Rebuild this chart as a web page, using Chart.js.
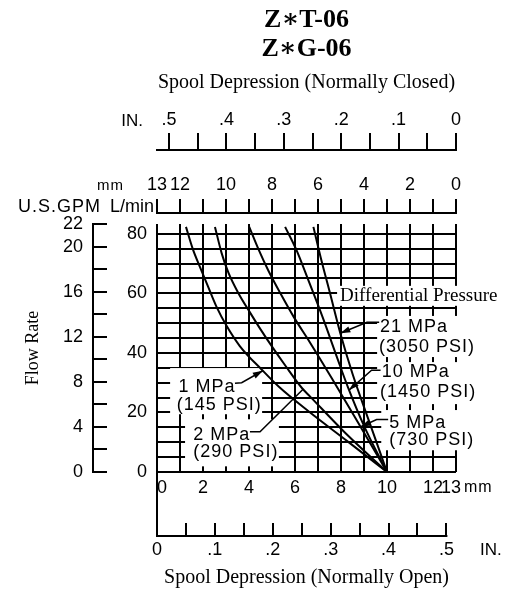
<!DOCTYPE html>
<html>
<head>
<meta charset="utf-8">
<style>
html,body{margin:0;padding:0;background:#fff;}
#wrap{width:513px;height:594px;}
</style>
<script src="https://cdn.jsdelivr.net/npm/chart.js@4.4.1/dist/chart.umd.min.js"></script>
</head>
<body>
<div id="wrap"><canvas id="c" width="513" height="594"></canvas></div>
<script>
// ---------- tick data ----------
const mmTicks = [0,1,2,3,4,5,6,7,8,9,10,11,12,13];
const mmLabels = [0,2,4,6,8,10,12,13];
const inchTicks = [0,0.05,0.1,0.15,0.2,0.25,0.3,0.35,0.4,0.45,0.5];
const inchLabelValues = [0,0.1,0.2,0.3,0.4,0.5];
const inchLabelTexts = ['0','.1','.2','.3','.4','.5'];
const lpmTicks = [0,5,10,15,20,25,30,35,40,45,50,55,60,65,70,75,80];
const lpmLabels = [0,20,40,60,80];
const gpmTicks = [0,2,4,6,8,10,12,14,16,18,20,22];
const gpmLabels = [0,4,8,12,16,20,22];
const gpmMax = 22;
const lpmPerGpm = 3.785;
const mmMax = 13;
const inchTopMax = 0.521;
const inchBotMax = 0.5166;

// ---------- series (x = spool depression mm, y = flow L/min) ----------
const seriesNames = ['1 MPa','2 MPa','5 MPa','10 MPa','21 MPa'];
const psiNames = ['(145 PSI)','(290 PSI)','(730 PSI)','(1450 PSI)','(3050 PSI)'];
const mpa1X = [1.26, 1.55, 1.87, 2.23, 2.6, 3.03, 3.6, 4.6, 5.3, 6.6, 8.3, 10];
const mpa1Y = [82.3, 75, 68.8, 62.1, 55.3, 49, 42.3, 34, 28.6, 20.3, 10.2, 0];
const mpa2X = [2.52, 2.81, 3.1, 3.54, 4.04, 4.51, 5.01, 5.6, 6.3, 6.65, 8.2, 10];
const mpa2Y = [82.3, 73.5, 67, 60, 53.6, 47.8, 42, 35.5, 28.2, 25.4, 13, 0];
const mpa5X = [4.01, 4.4, 4.85, 5.4, 5.95, 6.65, 7.6, 8.9, 10];
const mpa5Y = [82.3, 75, 67.5, 59.5, 52, 43.5, 31.5, 14.5, 0];
const mpa10X = [5.57, 6.07, 6.58, 7.2, 7.85, 8.3, 9, 10];
const mpa10Y = [82.3, 74.4, 64.4, 52, 38, 28.5, 15.5, 0];
const mpa21X = [6.8, 7.15, 7.49, 7.97, 8.5, 9.2, 10];
const mpa21Y = [82.3, 71, 61, 46.6, 33, 17.5, 0];

const curves = [[mpa1X, mpa1Y],[mpa2X, mpa2Y],[mpa5X, mpa5Y],[mpa10X, mpa10Y],[mpa21X, mpa21Y]];

const SANS = '"Liberation Sans", Arial, Helvetica, sans-serif';
const SERIF = '"Liberation Serif", "Times New Roman", Times, "DejaVu Serif", serif';

Chart.defaults.color = '#000';
Chart.defaults.font.family = SANS;

function fixH(h){ return s => { s.height = h; s.paddingLeft = s.paddingRight = s.paddingTop = s.paddingBottom = 0; }; }
function fixW(w){ return s => { s.width = w; s.paddingLeft = s.paddingRight = s.paddingTop = s.paddingBottom = 0; }; }
function setTicks(arr){ return s => { s.ticks = arr.map(v => ({value: v})); }; }
function labelIf(list){ return v => list.some(l => Math.abs(l - v) < 1e-6) ? String(v) : ''; }
function mmBottomLabel(v){
  if (!mmLabels.some(l => Math.abs(l - v) < 1e-6)) return '';
  if (v === 0) return '  ' + v;      // sits just right of the axis line, as in the original
  if (v === mmMax) return v + '  ';
  return String(v);
}
function inchLabel(v){ const i = inchLabelValues.findIndex(l => Math.abs(l - v) < 1e-6); return i < 0 ? '' : inchLabelTexts[i]; }

const tickFont = {family: SANS, size: 18};
const blackGrid = {color:'#000', lineWidth:2};

// ---------- annotation plugin ----------
const notes = [
  {box:[7.83,14.9,62.5,55.8], lines:[['Differential Pressure',7.96,59.2]], serif:true},
  {box:[9.57,13.9,52.4,38.6], lines:[[seriesNames[4],9.70,48.8],[psiNames[4],9.65,42.1]], leader:[[9.66,50.3],[9.13,50.3],[7.97,46.6]], arrow:true},
  {box:[9.57,13.9,36.9,22.8], lines:[[seriesNames[3],9.77,33.5],[psiNames[3],9.70,26.9]], leader:[[9.72,34.2],[9.33,34.2],[8.35,27.5]], arrow:true},
  {box:[9.75,13.9,20.8,7.3], lines:[[seriesNames[2],10.1,16.3],[psiNames[2],10.1,10.7]], leader:[[10.05,17.6],[9.55,17.6],[8.86,15.2]], arrow:true},
  {box:[0.57,4.57,34.9,19.4], lines:[[seriesNames[0],0.93,28.6],[psiNames[0],0.86,22.5]], leader:[[3.39,29.8],[3.68,30.0],[4.6,34]], arrow:true},
  {box:[1.22,5.3,17.7,1.9], lines:[[seriesNames[1],1.58,12.4],[psiNames[1],1.58,6.7]], leader:[[4.04,13.5],[4.48,13.5],[6.35,27.8]], arrow:false}
];

const notesPlugin = {
  id: 'notes',
  beforeDatasetsDraw(chart){
    const {ctx} = chart; const X = chart.scales.x, Y = chart.scales.y;
    const px = v => X.getPixelForValue(v), py = v => Y.getPixelForValue(v);
    ctx.save();
    ctx.fillStyle = '#fff';
    notes.forEach(n => {
      const x1 = px(n.box[0]), x2 = px(n.box[1]), y1 = py(n.box[2]), y2 = py(n.box[3]);
      ctx.fillRect(x1, y1, x2 - x1, y2 - y1);
    });
    ctx.fillStyle = '#000';
    ctx.textAlign = 'left';
    ctx.textBaseline = 'middle';
    notes.forEach(n => {
      if (n.serif) { ctx.font = '19px ' + SERIF; ctx.letterSpacing = '0px'; }
      else { ctx.font = '18px ' + SANS; ctx.letterSpacing = '1px'; }
      n.lines.forEach(l => ctx.fillText(l[0], px(l[1]), py(l[2])));
    });
    ctx.letterSpacing = '0px';
    ctx.restore();
  },
  afterDatasetsDraw(chart){
    const {ctx} = chart; const X = chart.scales.x, Y = chart.scales.y;
    const px = v => X.getPixelForValue(v), py = v => Y.getPixelForValue(v);
    ctx.save();
    ctx.strokeStyle = '#000'; ctx.fillStyle = '#000'; ctx.lineWidth = 1.5;
    notes.forEach(n => {
      if (!n.leader) return;
      const pts = n.leader.map(p => [px(p[0]), py(p[1])]);
      ctx.beginPath(); ctx.moveTo(pts[0][0], pts[0][1]);
      for (let i = 1; i < pts.length; i++) ctx.lineTo(pts[i][0], pts[i][1]);
      ctx.stroke();
      if (n.arrow) {
        const [x2,y2] = pts[pts.length-1], [x1,y1] = pts[pts.length-2];
        const a = Math.atan2(y2-y1, x2-x1), L = 10, W = 3.2;
        ctx.beginPath(); ctx.moveTo(x2, y2);
        ctx.lineTo(x2 - L*Math.cos(a) + W*Math.sin(a), y2 - L*Math.sin(a) - W*Math.cos(a));
        ctx.lineTo(x2 - L*Math.cos(a) - W*Math.sin(a), y2 - L*Math.sin(a) + W*Math.cos(a));
        ctx.closePath(); ctx.fill();
      }
    });
    ctx.restore();
  },
  afterDraw(chart){
    const {ctx} = chart;
    const X = chart.scales.x, IB = chart.scales.inBot, IT = chart.scales.inTop, MT = chart.scales.mmTop;
    ctx.save();
    ctx.strokeStyle = '#000'; ctx.fillStyle = '#000'; ctx.lineWidth = 2;
    // bottom inch baseline and connector
    ctx.beginPath();
    ctx.moveTo(X.left, X.top); ctx.lineTo(X.left, IB.top);
    ctx.moveTo(IB.getPixelForValue(0) - 1, IB.top); ctx.lineTo(IB.getPixelForValue(0.5) + 1, IB.top);
    ctx.stroke();
    ctx.textBaseline = 'middle';
    ctx.font = '17px ' + SANS;
    ctx.textAlign = 'right';
    ctx.fillText('IN.', IT.left - 14, IT.bottom - 29);
    ctx.font = '15px ' + SANS; ctx.letterSpacing = '1px';
    ctx.fillText('mm', MT.left - 33, MT.bottom - 27);
    ctx.font = '18px ' + SANS; ctx.letterSpacing = '1px';
    ctx.fillText('U.S.GPM', 101, MT.bottom - 6);
    ctx.letterSpacing = '0px';
    ctx.fillText('L/min', MT.left - 3, MT.bottom - 6);
    ctx.textAlign = 'left';
    ctx.font = '16px ' + SANS; ctx.letterSpacing = '1px';
    ctx.fillText('mm', X.right + 8, X.top + 16);
    ctx.letterSpacing = '0px';
    ctx.font = '17px ' + SANS;
    ctx.fillText('IN.', IB.right + 24, IB.top + 14);
    ctx.restore();
  }
};

const datasets = curves.map((c, i) => ({
  label: seriesNames[i],
  data: c[0].map((x, j) => ({x: x, y: c[1][j]})),
  borderColor: '#000',
  borderWidth: 2,
  pointRadius: 0,
  fill: false,
  cubicInterpolationMode: 'monotone',
  xAxisID: 'x',
  yAxisID: 'y'
}));

new Chart(document.getElementById('c'), {
  type: 'line',
  data: { datasets: datasets },
  plugins: [notesPlugin],
  options: {
    responsive: false,
    devicePixelRatio: 1,
    animation: false,
    events: [],
    layout: { padding: {left:0, right:57, top:0, bottom:0}, autoPadding: false },
    plugins: { legend: {display:false}, title: {display:false}, tooltip: {enabled:false} },
    scales: {
      x: {
        type:'linear', position:'bottom', min:0, max:mmMax, weight:0,
        afterBuildTicks: setTicks(mmTicks), afterFit: fixH(64),
        grid: Object.assign({drawTicks:false}, blackGrid), border: {display:false},
        ticks: {autoSkip:false, maxRotation:0, minRotation:0, padding:5, font:tickFont, callback: mmBottomLabel}
      },
      inBot: {
        type:'linear', position:'bottom', min:0, max:inchBotMax, weight:1,
        afterBuildTicks: setTicks(inchTicks), afterFit: fixH(58),
        grid: {display:true, drawOnChartArea:false, drawTicks:true, tickLength:-13, color:'#000', lineWidth:2},
        border: {display:false},
        ticks: {autoSkip:false, maxRotation:0, minRotation:0, padding:16, font:tickFont, callback: inchLabel},
        title: {display:true, text:'Spool Depression (Normally Open)', color:'#000', font:{family:SERIF, size:20}, padding:{top:0, bottom:4}}
      },
      spacerTop: {
        type:'linear', position:'top', min:0, max:1, weight:0, afterFit: fixH(11),
        grid:{display:false}, border:{display:false}, ticks:{display:false}
      },
      mmTop: {
        type:'linear', position:'top', min:0, max:mmMax, reverse:true, weight:1,
        afterBuildTicks: setTicks(mmTicks), afterFit: fixH(63),
        grid: {display:true, drawOnChartArea:false, drawTicks:true, tickLength:14, color:'#000', lineWidth:2},
        border: {display:true, color:'#000', width:2},
        ticks: {autoSkip:false, maxRotation:0, minRotation:0, padding:3, font:tickFont, callback: labelIf(mmLabels)}
      },
      inTop: {
        type:'linear', position:'top', min:0, max:inchTopMax, reverse:true, weight:2,
        afterBuildTicks: setTicks(inchTicks), afterFit: fixH(82),
        grid: {display:true, drawOnChartArea:false, drawTicks:true, tickLength:17, color:'#000', lineWidth:2},
        border: {display:true, color:'#000', width:2},
        ticks: {autoSkip:false, maxRotation:0, minRotation:0, padding:2, font:tickFont, callback: inchLabel},
        title: {display:true, text:'Spool Depression (Normally Closed)', color:'#000', font:{family:SERIF, size:20}, padding:{top:3, bottom:0}}
      },
      headTop: {
        type:'linear', position:'top', min:0, max:1, weight:3, afterFit: fixH(68),
        grid:{display:false}, border:{display:false}, ticks:{display:false},
        title: {display:true, text:['Z\u2217T-06','Z\u2217G-06'], color:'#000', font:{family:SERIF, size:26, weight:'bold', lineHeight:'28.3px'}, padding:{top:6.5, bottom:0}}
      },
      y: {
        type:'linear', position:'left', min:0, max:gpmMax*lpmPerGpm, weight:0,
        afterBuildTicks: setTicks(lpmTicks), afterFit: fixW(64),
        grid: Object.assign({drawTicks:false}, blackGrid), border: {display:false},
        ticks: {autoSkip:false, padding:10, font:tickFont, callback: labelIf(lpmLabels)}
      },
      yGpm: {
        type:'linear', position:'left', min:0, max:gpmMax, weight:1,
        afterBuildTicks: setTicks(gpmTicks), afterFit: fixW(93),
        grid: {display:true, drawOnChartArea:false, drawTicks:true, tickLength:-14, color:'#000', lineWidth:2},
        border: {display:true, color:'#000', width:2},
        ticks: {autoSkip:false, padding:24, font:tickFont, callback: labelIf(gpmLabels)},
        title: {display:true, text:'Flow Rate', color:'#000', font:{family:SERIF, size:18}, padding:{top:22, bottom:0}}
      }
    }
  }
});
</script>
</body>
</html>
